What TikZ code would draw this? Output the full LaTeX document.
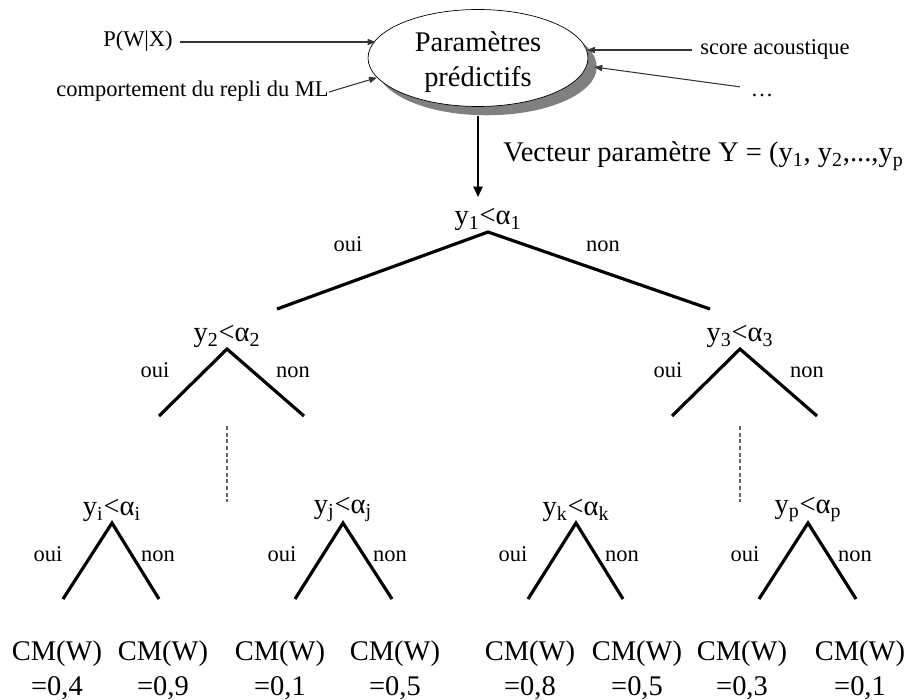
\documentclass[tikz,border=0pt]{standalone}
\usepackage{fontspec}
\setmainfont{Liberation Serif}
\usepackage{tikz}
\usetikzlibrary{arrows.meta,shapes.geometric,shadows}
\newcommand{\bigtxt}{\fontsize{16.2}{20}\selectfont}
\newcommand{\smalltxt}{\fontsize{12.8}{15.4}\selectfont}
\newcommand{\ycond}[1]{y\textsubscript{#1}<α\textsubscript{#1}}
\newcommand{\twolines}[2]{\raisebox{0pt}[21.8pt][8.2pt]{\begin{tabular}{@{}c@{}}#1\\#2\end{tabular}}}
\tikzset{
  txt/.style={font=\smalltxt, inner sep=0pt, text height=0.7em, text depth=0.22em},
  test/.style={font=\bigtxt, inner sep=0pt, inner ysep=0.3pt, anchor=south},
  leaf/.style={font=\bigtxt, align=center, inner sep=0pt},
  param/.style={ellipse, draw, fill=white, minimum width=4.4cm, minimum height=1.94cm, inner sep=0pt, font=\bigtxt,
    drop shadow={shadow xshift=5pt, shadow yshift=-5pt, fill=black!50, opacity=1}},
  arrin/.style={-{Triangle[length=4.5pt,width=3.5pt]}, black!80, line width=0.6pt},
  arrout/.style={-{Triangle[length=6pt,width=5pt]}, line width=1.4pt},
  branch/.style={line width=1.8pt},
  vdots/.style={dash pattern=on 2.3pt off 1.5pt, black!60, line width=0.6pt}}

\begin{document}
\begin{tikzpicture}[x=0.02cm, y=-0.02cm]
  \useasboundingbox (0,0) rectangle (908,699);
  % predictive parameters
  \node[param] (param) at (478,58) {\twolines{Paramètres}{prédictifs}};
  \node[txt, inner xsep=4pt] (pwx) at (138,42) {P(W|X)};
  \node[txt, anchor=east] (comp) at (329,92) {comportement du repli du ML};
  \node[txt, anchor=west, inner xsep=4.5pt] (score) at (692,50) {score acoustique};
  \node[txt, text height=0.1em, text depth=0pt, inner xsep=6pt, inner ysep=4.5pt] (more) at (762,96) {\dots};
  \draw[arrin] (pwx.east) -- (pwx.east -| param.170);
  \draw[arrin] (comp.east) -- (param.191);
  \draw[arrin] (score.west) -- (score.west -| param.4);
  \draw[arrin] (more.north west) -- ([shift={(6,9)}]param.east);
  \node[font=\bigtxt, anchor=west, inner sep=0pt] (vec) at (503,156) {Vecteur paramètre Y = (y\textsubscript{1}, y\textsubscript{2},...,y\textsubscript{p}};
  % decision tree
  \node[test] (t1) at (488,232) {\ycond{1}};
  \node[test] (t2) at (227,349) {\ycond{2}};
  \node[test] (t3) at (740,349) {\ycond{3}};
  \node[test] (ti) at (112,523) {\ycond{i}};
  \node[test] (tj) at (343,523) {\ycond{j}};
  \node[test] (tk) at (576,523) {\ycond{k}};
  \node[test] (tp) at (808,523) {\ycond{p}};
  \draw[arrout, shorten <=5pt, shorten >=6pt] (param.south) -- (param.south |- t1.north);
  \foreach \t/\lx/\rx/\ey in {t1/277/710/309, t2/159/304/416, t3/672/817/416, ti/63/159/599, tj/295/392/599, tk/528/623/599, tp/759/856/599} {
    \coordinate (\t l) at (\lx,\ey); \coordinate (\t r) at (\rx,\ey);
    \draw[branch] (\t l) -- (\t.south) -- (\t r);}
  \foreach \x/\y/\w [count=\k] in {348/247/oui, 603/247/non, 155/373/oui, 293/373/non, 668/373/oui, 807/373/non, 48/557/oui, 158/557/non, 282/557/oui, 390/557/non, 513/557/oui, 622/557/non, 745/557/oui, 855/557/non}
    \node[txt] (lab\k) at (\x,\y) {\w};
  \foreach \x [count=\k] in {227,740} {\coordinate (d\k a) at (\x,426); \coordinate (d\k b) at (\x,502); \draw[vdots] (d\k a) -- (d\k b);}
  % leaves
  \foreach \x/\v [count=\k] in {57/4,163/9,280/1,395/5,530/8,637/5,742/3,860/1}
    \node[leaf] (cm\k) at (\x,670) {CM(W)\\=0,\v};
\end{tikzpicture}
\end{document}
